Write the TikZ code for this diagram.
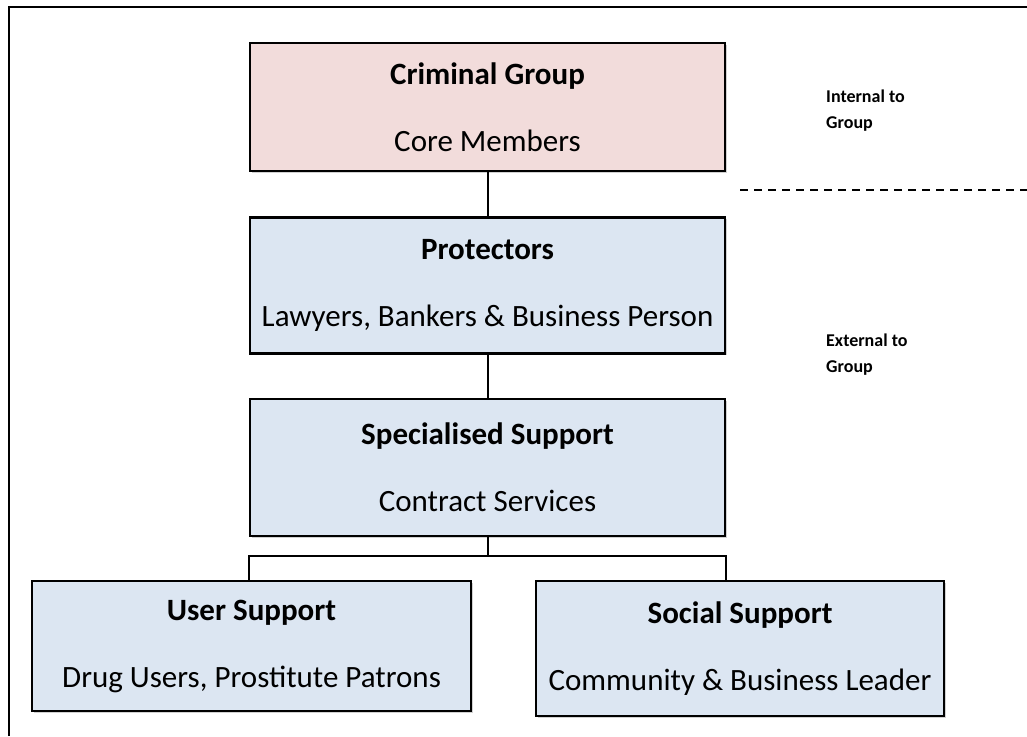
\documentclass[tikz,border=0pt]{standalone}
\usepackage{fontspec}
\setmainfont{Carlito}
\usetikzlibrary{positioning,shadows}
\definecolor{grouppink}{HTML}{F2DCDB}
\definecolor{supportblue}{HTML}{DCE6F2}
\tikzstyle{box}=[draw,line width=2.4pt,align=center,inner sep=6pt,font=\fontsize{31}{67}\selectfont,drop shadow={shadow xshift=2pt,shadow yshift=-2pt,opacity=0.18,fill=black}]
\tikzstyle{link}=[line width=2pt]
\tikzstyle{cut}=[line width=1.3pt,dash pattern=on 8pt off 6pt]
\tikzstyle{tag}=[align=left,font=\bfseries\fontsize{18}{26}\selectfont,inner sep=0pt]

\begin{document}
\begin{tikzpicture}[x=1pt,y=-1pt]
\useasboundingbox (0,0) rectangle (1027,736);
\draw[line width=2pt] (9,736) -- (9,7) -- (1027,7);

\node[box,fill=grouppink,minimum width=475pt,minimum height=128pt] (crim) at (487.5,107) {\textbf{Criminal Group}\\Core Members};
\node[box,fill=supportblue,minimum width=475pt,minimum height=136pt,below=44pt of crim] (prot) {\textbf{Protectors}\\Lawyers, Bankers \& Business Person};
\node[box,fill=supportblue,minimum width=475pt,minimum height=137pt,below=43pt of prot] (spec) {\textbf{Specialised Support}\\Contract Services};

\node[box,fill=supportblue,minimum width=439pt,minimum height=130pt] (user) at (251.5,646) {\textbf{User Support}\\Drug Users, Prostitute Patrons};
\node[box,fill=supportblue,minimum width=408pt,minimum height=135pt] (social) at (740,648.5) {\textbf{Social Support}\\Community \& Business Leader};

\draw[link] (crim) -- (prot);
\draw[link] (prot) -- (spec);
\coordinate (fork) at (487.5,556);
\draw[link] (spec) -- (fork);
\draw[link] (fork) -| (user.north -| spec.west);
\draw[link] (fork) -| (social.north -| spec.east);

\node[tag,anchor=north west] (intl) at (826,90) {Internal to\\Group};
\node[tag,anchor=north west] (extl) at (826,334) {External to\\Group};
\coordinate (cutL) at (740,190);
\coordinate (cutR) at (1027,190);
\draw[cut] (cutL) -- (cutR);
\end{tikzpicture}
\end{document}
